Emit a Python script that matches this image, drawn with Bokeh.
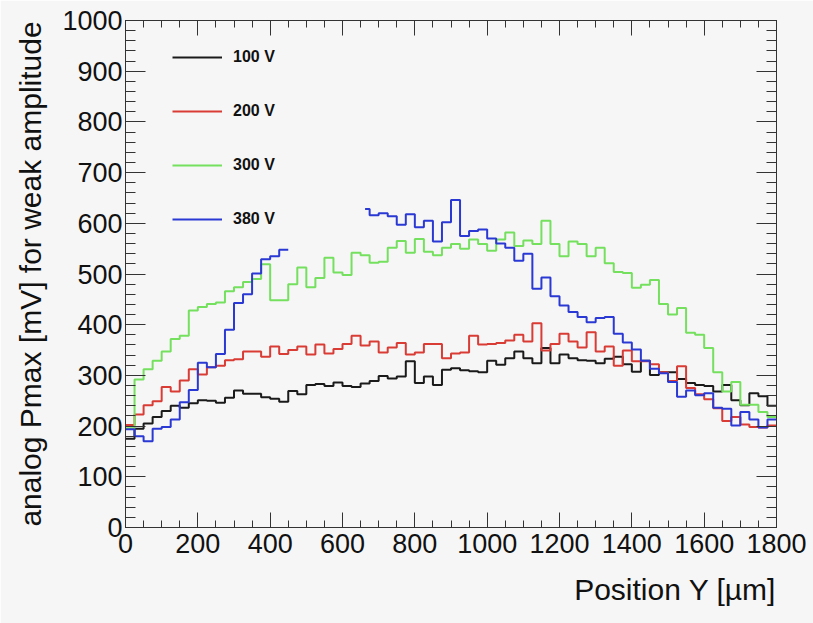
import numpy as np
from bokeh.plotting import figure
from bokeh.models import (LinearAxis, FixedTicker, Legend, LegendItem, Range1d,
                          Title)
from bokeh.embed import file_html
from bokeh.resources import INLINE

# ---------------- data ----------------
bin_width = 25          # um
n_bins = 72
x_start, x_end = 0, 1800
y_start, y_end = 0, 1000

x_major = list(range(0, 1801, 200))
x_minor = list(range(0, 1801, 50))
y_major = list(range(0, 1001, 100))
y_minor = list(range(0, 1001, 20))

labels = ["100 V", "200 V", "300 V", "380 V"]
x_title = "Position Y [\u00b5m]"
y_title = "analog Pmax [mV] for weak amplitude"

v100 = [175, 195, 205, 218, 230, 240, 236, 245, 251, 250, 246, 256,
        270, 264, 264, 257, 254, 248, 269, 263, 281, 283, 279, 286,
        279, 277, 284, 289, 299, 294, 298, 328, 285, 298, 281, 311,
        314, 310, 308, 306, 329, 321, 334, 347, 334, 324, 354, 324,
        341, 334, 330, 329, 324, 333, 337, 322, 307, 329, 301, 306,
        306, 293, 285, 281, 279, 268, 281, 251, 241, 265, 259, 240]

v200 = [202, 223, 241, 249, 277, 268, 290, 312, 302, 316, 319, 330,
        332, 347, 347, 337, 357, 342, 350, 357, 341, 361, 343, 352,
        362, 378, 359, 367, 345, 355, 364, 341, 345, 362, 362, 334,
        343, 345, 378, 361, 362, 364, 369, 380, 367, 403, 349, 362,
        382, 367, 355, 385, 347, 357, 319, 349, 328, 328, 322, 306,
        289, 318, 275, 263, 253, 235, 210, 218, 203, 198, 197, 201]

v300 = [196, 292, 312, 329, 347, 372, 378, 428, 435, 441, 444, 466,
        474, 484, 490, 519, 448, 448, 480, 513, 474, 492, 532, 503,
        498, 542, 537, 522, 524, 552, 565, 542, 569, 544, 537, 552,
        559, 550, 568, 559, 546, 568, 582, 555, 566, 559, 605, 559,
        535, 564, 559, 535, 552, 521, 504, 502, 473, 479, 488, 441,
        420, 433, 384, 380, 354, 306, 268, 287, 242, 242, 228, 218]

v380 = [194, 180, 170, 195, 198, 213, 247, 271, 325, 316, 342, 390,
        443, 460, 501, 529, 535, 548, None, None, None, None, None, None,
        None, None, 628, 616, 620, 614, 597, 618, 592, 605, 564, 602,
        646, 575, 585, 588, 570, 560, 552, 526, 540, 471, 493, 456,
        438, 425, 415, 405, 413, 415, 382, 365, 351, 329, 313, 304,
        287, 258, 270, 261, 265, 236, 234, 201, 228, 213, 197, 213]

series = [v100, v200, v300, v380]

# ---------------- styles ----------------
colors = ["#1a1a1a", "#d93b35", "#74e05e", "#2a38d4"]
bg = "#f6f6f6"
frame_col = "#333333"
FONT = "Liberation Sans"


def step_path(values):
    """Histogram outline (ROOT 'HIST' style) from bin contents."""
    edges = x_start + np.arange(n_bins + 1) * bin_width
    xs, ys = [], []
    in_seg = False
    had_seg = False
    for i, v in enumerate(values):
        if v is None:
            if in_seg:
                xs.append(np.nan)
                ys.append(np.nan)
            in_seg = False
            continue
        left = edges[i]
        if not in_seg and had_seg:
            left = edges[i] + bin_width / 2.0
        xs += [left, edges[i + 1]]
        ys += [v, v]
        in_seg = True
        had_seg = True
    return xs, ys


p = figure(width=813, height=623,
           x_range=Range1d(x_start, x_end), y_range=Range1d(y_start, y_end),
           output_backend="svg", toolbar_location=None,
           min_border_left=125, min_border_right=37,
           min_border_top=20, min_border_bottom=96,
           background_fill_color=bg, border_fill_color=bg,
           outline_line_color=frame_col)
p.xgrid.visible = False
p.ygrid.visible = False

renderers = []
for vals, col in zip(series, colors):
    xs, ys = step_path(vals)
    r = p.line(xs, ys, line_color=col, line_width=2)
    renderers.append(r)


def style_axis(ax, major, minor, tin, show_labels, standoff):
    ax.ticker = FixedTicker(ticks=major, minor_ticks=minor)
    ax.major_tick_in = tin
    ax.major_tick_out = 0
    ax.minor_tick_in = tin // 2
    ax.minor_tick_out = 0
    ax.axis_line_color = frame_col
    ax.major_tick_line_color = frame_col
    ax.minor_tick_line_color = frame_col
    ax.major_label_standoff = standoff
    ax.major_label_text_font = FONT
    ax.major_label_text_font_size = "27px"
    ax.major_label_text_color = "#111111"
    if not show_labels:
        ax.major_label_overrides = {t: "" for t in major}
        ax.major_label_text_font_size = "1px"


xb = p.xaxis[0]
style_axis(xb, x_major, x_minor, 15, True, 6)

yl = p.yaxis[0]
style_axis(yl, y_major, y_minor, 20, True, 3)
yl.axis_label = y_title
yl.axis_label_text_font = FONT
yl.axis_label_text_font_size = "30px"
yl.axis_label_text_font_style = "normal"
yl.axis_label_text_color = "#111111"
yl.axis_label_standoff = 12

xt = LinearAxis()
style_axis(xt, x_major, x_minor, 15, False, 0)
p.add_layout(xt, "above")
yr = LinearAxis()
style_axis(yr, y_major, y_minor, 20, False, 0)
p.add_layout(yr, "right")

# x-axis title, right-aligned at the end of the axis (ROOT style)
xtitle = Title(text=x_title, align="right",
               text_font=FONT, text_font_size="30px",
               text_font_style="normal", text_color="#111111",
               standoff=30)
p.add_layout(xtitle, "below")

items = [LegendItem(label=lab, renderers=[r]) for lab, r in zip(labels, renderers)]
legend = Legend(items=items, location=(47, 298), orientation="vertical",
                glyph_width=50, glyph_height=20, label_height=20,
                spacing=34, padding=0, margin=0, label_standoff=11,
                label_text_font=FONT, label_text_font_style="bold",
                label_text_font_size="16px", label_text_color="#111111",
                border_line_alpha=0, background_fill_alpha=0)
p.add_layout(legend, "center")

open("out.html", "w").write(file_html(p, INLINE))
